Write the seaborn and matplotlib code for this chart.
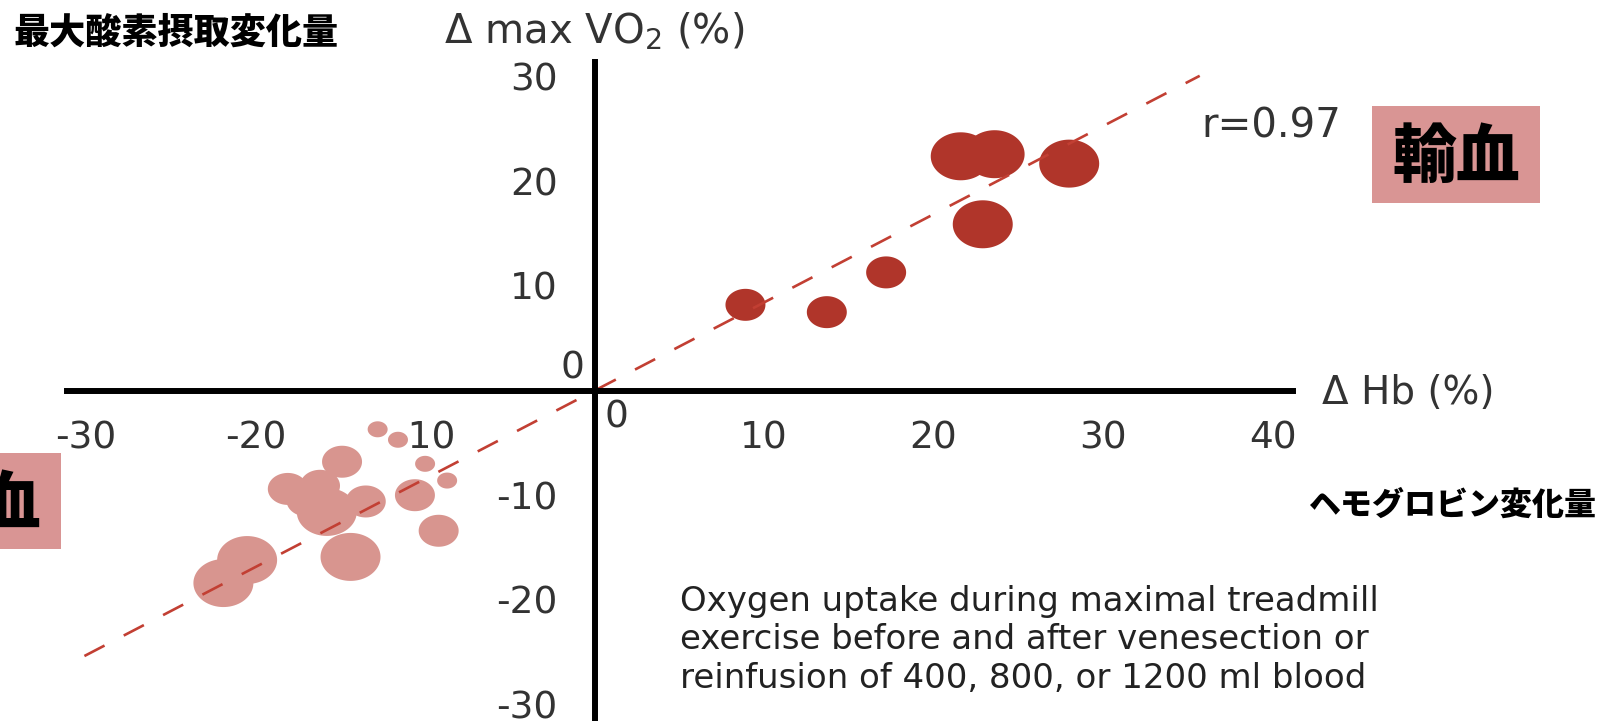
import numpy as np
import pandas as pd
import matplotlib
matplotlib.use("Agg")
import matplotlib.pyplot as plt
from matplotlib.path import Path
from matplotlib.markers import MarkerStyle
from matplotlib.patches import Rectangle
import seaborn as sns

# ---- data -------------------------------------------------------------
# blood reinfusion (輸血): change in haemoglobin vs change in max VO2 (%)
hb_reinfusion = [8.9, 13.7, 17.2, 22.9, 21.6, 23.6, 28.0]
vo2_reinfusion = [8.2, 7.5, 11.3, 15.9, 22.4, 22.6, 21.7]
vol_reinfusion = [800, 800, 800, 1200, 1200, 1200, 1200]

# venesection (瀉血)
hb_venesection = [-12.8, -11.6, -14.9, -10.0, -8.7, -18.1, -16.2, -13.5,
                  -10.6, -17.0, -15.8, -9.2, -14.4, -20.5, -21.9]
vo2_venesection = [-3.7, -4.7, -6.8, -7.0, -8.6, -9.4, -9.1, -10.6,
                   -10.0, -10.5, -11.6, -13.4, -15.9, -16.2, -18.4]
vol_venesection = [400, 400, 800, 400, 400, 800, 800, 800,
                   800, 800, 1200, 800, 1200, 1200, 1200]

# regression line through the origin
fit_slope = 0.843
fit_x_range = [-30.1, 35.7]
r_label = "r=0.97"

x_ticks = [-30, -20, -10, 10, 20, 30, 40]
x_tick_labels = ["-30", "-20", "-10", "10", "20", "30", "40"]
y_ticks = [-30, -20, -10, 10, 20, 30]
y_tick_labels = ["-30", "-20", "-10", "10", "20", "30"]

caption_lines = [
    "Oxygen uptake during maximal treadmill",
    "exercise before and after venesection or",
    "reinfusion of 400, 800, or 1200 ml blood",
]

df = pd.concat([
    pd.DataFrame({"hb": hb_venesection, "vo2": vo2_venesection,
                  "volume": vol_venesection, "group": "venesection"}),
    pd.DataFrame({"hb": hb_reinfusion, "vo2": vo2_reinfusion,
                  "volume": vol_reinfusion, "group": "reinfusion"}),
], ignore_index=True)

# ---- style ------------------------------------------------------------
sns.set_style("white")
plt.rcParams["font.family"] = ["DejaVu Sans"]
JP = ["Noto Sans CJK JP", "DejaVu Sans"]

DARK = "#B0352A"
LIGHT = "#D8958F"
LINE = "#C23F33"
BOX = "#D99594"
TXT = "#333333"

W, H = 1616, 721
fig = plt.figure(figsize=(W / 100, H / 100), dpi=100)
ax = fig.add_axes([0, 0, 1, 1])

# slightly wide elliptical marker
t = np.linspace(0, 2 * np.pi, 80)
ellipse = Path(np.column_stack([np.cos(t), 0.8 * np.sin(t)]), closed=True)
marker = MarkerStyle(ellipse)

size_map = {400: 207, 800: 829, 1200: 1866}
palette = {"venesection": LIGHT, "reinfusion": DARK}

sns.scatterplot(data=df, x="hb", y="vo2", hue="group", size="volume",
                sizes=size_map, palette=palette, marker=marker,
                linewidth=0, edgecolor="none", alpha=1.0,
                legend=False, ax=ax, zorder=2)

fx = np.array(fit_x_range)
ax.plot(fx, fit_slope * fx, color=LINE, lw=1.9, dashes=(8.6, 8.2), zorder=3)

# pixel-calibrated limits: origin at (594.6, 390.6)
px_x, px_y = 16.95, 10.46
ox, oy = 594.6, 390.6
ax.set_xlim(-ox / px_x, (W - ox) / px_x)
ax.set_ylim((oy - H) / px_y, oy / px_y)
ax.set_xlabel("")
ax.set_ylabel("")

for s in ("top", "right"):
    ax.spines[s].set_visible(False)
for s in ("left", "bottom"):
    ax.spines[s].set_position(("data", 0))
    ax.spines[s].set_linewidth(4.3)
    ax.spines[s].set_color("black")
    ax.spines[s].set_zorder(4)
ax.spines["left"].set_bounds((oy - H) / px_y, 31.4)
ax.spines["bottom"].set_bounds(-31.13, 41.2)

ax.set_xticks(x_ticks)
ax.set_xticklabels(x_tick_labels)
ax.set_yticks(y_ticks)
ax.set_yticklabels(y_tick_labels)
ax.tick_params(axis="x", direction="out", length=13, width=1.8, pad=8.5,
               labelsize=27, labelcolor=TXT, color="black")
ax.tick_params(axis="y", direction="out", length=16, width=1.8, pad=10.6,
               labelsize=27, labelcolor=TXT, color="black")

# origin labels
ax.text(-1.3, 2.1, "0", fontsize=27, color=TXT, ha="center", va="center")
ax.text(1.3, -2.6, "0", fontsize=27, color=TXT, ha="center", va="center")

# axis titles
ax.text(0, 33.2, r"Δ max VO$_2$ (%)", fontsize=29, color=TXT,
        ha="center", va="baseline")
ax.text(42.9, -1.25, "Δ Hb (%)", fontsize=28, color=TXT,
        ha="left", va="baseline")
ax.text(35.8, 24.24, r_label, fontsize=29, color=TXT,
        ha="left", va="baseline")

# caption
for i, line in enumerate(caption_lines):
    fig.text(680 / W, 1 - (601 + 38.6 * i) / H, line, fontsize=24.5,
             color="#222222", ha="left", va="center")

# Japanese annotations
fig.text(14 / W, 1 - 33 / H, "最大酸素摂取変化量", family=JP,
         fontsize=26, fontweight="black", color="black",
         ha="left", va="center")
fig.text(1309 / W, 1 - 505 / H, "ヘモグロビン変化量", family=JP,
         fontsize=23, fontweight="black", color="black",
         ha="left", va="center")

fig.patches.append(Rectangle((1371.7 / W, 1 - 202.7 / H), 168.3 / W,
                             96.7 / H, transform=fig.transFigure,
                             facecolor=BOX, edgecolor="none"))
fig.text(1456 / W, 1 - 158 / H, "輸血", family=JP, fontsize=46,
         fontweight="black", color="black", ha="center", va="center")

fig.patches.append(Rectangle((-107 / W, 1 - 549 / H), 168 / W, 96 / H,
                             transform=fig.transFigure,
                             facecolor=BOX, edgecolor="none"))
fig.text(-23 / W, 1 - 505 / H, "瀉血", family=JP, fontsize=46,
         fontweight="black", color="black", ha="center", va="center")

fig.savefig("out.png", dpi=100)
